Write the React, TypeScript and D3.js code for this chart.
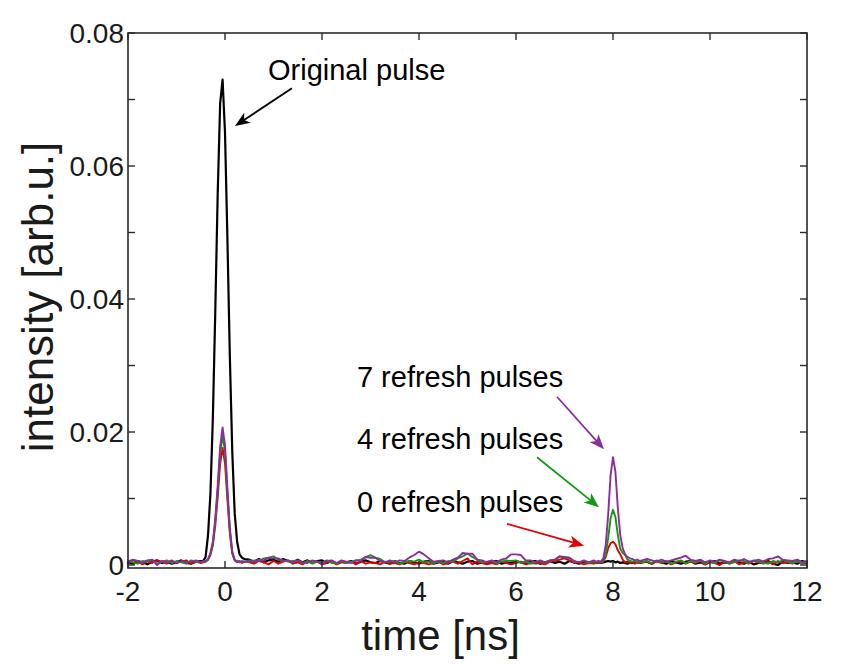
import * as d3 from "d3";

// sampling grid in ns (denser around the two pulses)
const TIME = [
  -2, -1.9, -1.8, -1.7, -1.6, -1.5, -1.4, -1.3, -1.2, -1.1, -1, -0.9, -0.8, -0.7, -0.6, -0.5,
  -0.45, -0.4, -0.35, -0.3, -0.25, -0.2, -0.15, -0.1, -0.05, 0, 0.05, 0.1, 0.15, 0.2, 0.25, 0.3, 0.35, 0.4,
  0.5, 0.6, 0.7, 0.8, 0.9, 1, 1.1, 1.2, 1.3, 1.4,
  1.5, 1.6, 1.7, 1.8, 1.9, 2, 2.1, 2.2, 2.3, 2.4,
  2.5, 2.6, 2.7, 2.8, 2.9, 3, 3.1, 3.2, 3.3, 3.4,
  3.5, 3.6, 3.7, 3.8, 3.9, 4, 4.1, 4.2, 4.3, 4.4,
  4.5, 4.6, 4.7, 4.8, 4.9, 5, 5.1, 5.2, 5.3, 5.4,
  5.5, 5.6, 5.7, 5.8, 5.9, 6, 6.1, 6.2, 6.3, 6.4,
  6.5, 6.6, 6.7, 6.8, 6.9, 7, 7.1, 7.2, 7.3, 7.4,
  7.5, 7.6,
  7.65, 7.7, 7.75, 7.8, 7.85, 7.9, 7.95, 8, 8.05, 8.1, 8.15, 8.2, 8.25, 8.3, 8.35, 8.4, 8.45, 8.5, 8.55, 8.6,
  8.7, 8.8, 8.9, 9, 9.1, 9.2, 9.3, 9.4, 9.5, 9.6,
  9.7, 9.8, 9.9, 10, 10.1, 10.2, 10.3, 10.4, 10.5, 10.6,
  10.7, 10.8, 10.9, 11, 11.1, 11.2, 11.3, 11.4, 11.5, 11.6,
  11.7, 11.8, 11.9, 12,
];

// intensities in units of 1e-4 arb.u.
const ORIGINAL = [
  4, 2, 6, 4, 1, 5, 7, 3, 5, 2, 4, 7, 3, 2, 5, 6,
  6, 12, 45, 108, 222, 383, 560, 694, 730, 650, 490, 313, 170, 78, 35, 16, 11, 9,
  8, 5, 9, 4, 7, 8, 5, 9, 6, 4,
  8, 4, 7, 3, 6, 7, 3, 6, 2, 5,
  4, 6, 2, 5, 7, 4, 3, 6, 4, 2,
  6, 3, 2, 6, 4, 2, 5, 6, 2, 4,
  5, 2, 6, 4, 2, 5, 6, 2, 4, 3,
  5, 6, 2, 4, 3, 6, 4, 2, 5, 6,
  2, 4, 6, 3, 5, 2, 6, 4, 2, 5,
  3, 5,
  3, 4, 3, 4, 5, 6, 5, 6, 4, 5, 3, 4, 3, 2, 4, 3, 5, 4, 3, 4,
  5, 2, 6, 4, 2, 6, 4, 2, 5, 6,
  2, 4, 1, 5, 6, 2, 4, 3, 6, 4,
  2, 5, 1, 3, 5, 6, 2, 0, 5, 3,
  4, 2, 6, 4,
];

const REFRESH_0 = [
  3, 7, 5, 1, 6, 3, 7, 5, 2, 6, 3, 5, 7, 2, 5, 3,
  4, 5, 8, 15, 30, 60, 102, 152, 176, 153, 98, 47, 17, 7, 4, 5, 3, 5,
  4, 2, 6, 4, 1, 6, 2, 5, 7, 2,
  4, 1, 6, 3, 5, 1, 3, 6, 1, 4,
  3, 5, 1, 6, 2, 4, 3, 1, 5, 2,
  3, 1, 5, 3, 1, 4, 3, 1, 3, 5,
  1, 3, 5, 2, 6, 10, 1, 5, 3, 1,
  3, 1, 5, 3, 1, 3, 5, 1, 3, 2,
  3, 1, 5, 6, 8, 10, 7, 3, 4, 1,
  3, 2,
  3, 4, 3, 5, 12, 25, 33, 35, 31, 22, 16, 8, 4, 5, 3, 4, 2, 4, 3, 4,
  5, 2, 6, 3, 5, 1, 4, 6, 2, 5,
  3, 6, 1, 4, 3, 0, 5, 2, 6, 1,
  4, 2, 6, 4, 2, 5, 1, 6, 3, 4,
  2, 6, 4, 2,
];

const REFRESH_4 = [
  7, 4, 2, 6, 5, 7, 2, 5, 7, 3, 6, 4, 2, 7, 5, 4,
  6, 5, 8, 17, 33, 66, 113, 168, 195, 170, 108, 52, 19, 7, 6, 4, 6, 5,
  5, 7, 6, 10, 11, 13, 8, 7, 5, 6,
  7, 3, 6, 2, 5, 4, 7, 3, 2, 6,
  3, 5, 7, 8, 12, 15, 11, 9, 4, 5,
  6, 2, 4, 6, 5, 8, 4, 5, 2, 6,
  3, 6, 5, 10, 13, 17, 12, 8, 4, 5,
  6, 2, 5, 7, 6, 7, 3, 6, 2, 4,
  6, 3, 7, 8, 13, 12, 11, 5, 4, 6,
  3, 5,
  4, 5, 4, 6, 16, 40, 70, 83, 72, 45, 24, 18, 15, 8, 6, 5, 6, 4, 5, 4,
  6, 3, 7, 4, 6, 2, 5, 7, 3, 6,
  4, 7, 2, 6, 3, 7, 5, 2, 4, 7,
  6, 3, 7, 5, 3, 2, 6, 4, 7, 5,
  3, 6, 2, 5,
];

const REFRESH_7 = [
  5, 8, 6, 3, 7, 8, 0, 6, 4, 7, 3, 6, 4, 5, 7, 4,
  5, 6, 9, 18, 35, 70, 120, 178, 207, 180, 115, 55, 20, 8, 5, 6, 4, 5,
  7, 4, 8, 7, 11, 10, 10, 6, 7, 4,
  7, 4, 3, 7, 5, 2, 6, 7, 3, 7,
  5, 3, 7, 6, 12, 11, 11, 6, 4, 7,
  4, 7, 6, 11, 15, 20, 16, 10, 5, 6,
  7, 4, 8, 11, 18, 17, 17, 8, 7, 4,
  7, 4, 8, 10, 16, 16, 15, 7, 7, 4,
  7, 4, 7, 8, 13, 11, 11, 6, 4, 7,
  4, 7,
  5, 6, 5, 10, 30, 75, 135, 162, 140, 85, 45, 25, 16, 12, 10, 9, 7, 8, 6, 7,
  9, 7, 5, 8, 5, 7, 9, 11, 14, 8,
  6, 8, 4, 7, 5, 8, 6, 4, 8, 6,
  9, 5, 6, 8, 5, 9, 10, 13, 8, 7,
  6, 8, 4, 6,
];

const UNIT = 1e-4;

const X_TICKS = [-2, 0, 2, 4, 6, 8, 10, 12];
const Y_TICKS = [0, 0.01, 0.02, 0.03, 0.04, 0.05, 0.06, 0.07, 0.08];
const Y_LABELED = [0, 0.02, 0.04, 0.06, 0.08];

const SERIES = [
  { key: "original", values: ORIGINAL, color: "#000000", width: 2.2 },
  { key: "r0", values: REFRESH_0, color: "#e00000", width: 1.9 },
  { key: "r4", values: REFRESH_4, color: "#149814", width: 1.9 },
  { key: "r7", values: REFRESH_7, color: "#8a2e9c", width: 1.9 },
];

// annotation text anchor and arrow (start -> tip), in data units
const NOTES = [
  { label: "Original pulse", at: [0.887, 0.0729], from: [1.38, 0.0717], to: [0.206, 0.066], color: "#000000" },
  { label: "7 refresh pulses", at: [2.72, 0.0268], from: [6.845, 0.0253], to: [7.814, 0.0174], color: "#8a2e9c" },
  { label: "4 refresh pulses", at: [2.72, 0.0174], from: [6.433, 0.0162], to: [7.711, 0.0087], color: "#149814" },
  { label: "0 refresh pulses", at: [2.72, 0.0080], from: [5.814, 0.0062], to: [7.402, 0.0029], color: "#e00000" },
];

const W = 844;
const H = 666;
const FONT = "'Liberation Sans', Arial, Helvetica, sans-serif";

export default function App() {
  const left = 128;
  const right = 807;
  const top = 33;
  const bottom = 568;

  const x = d3.scaleLinear().domain([-2, 12]).range([left, right]);
  const y = d3.scaleLinear().domain([-0.00045, 0.08]).range([bottom, top]);

  const line = d3
    .line<number>()
    .x((_, i) => x(TIME[i]))
    .y((v) => y(v * UNIT));

  const tickLen = 7;

  const arrowHead = (x1: number, y1: number, x2: number, y2: number) => {
    const dx = x2 - x1;
    const dy = y2 - y1;
    const len = Math.hypot(dx, dy);
    const ux = dx / len;
    const uy = dy / len;
    const nx = -uy;
    const ny = ux;
    const L = 15;
    const w = 6;
    const notch = 4;
    const pts = [
      [x2, y2],
      [x2 - L * ux + w * nx, y2 - L * uy + w * ny],
      [x2 - (L - notch) * ux, y2 - (L - notch) * uy],
      [x2 - L * ux - w * nx, y2 - L * uy - w * ny],
    ];
    return pts.map((p) => p.join(",")).join(" ");
  };

  return (
    <svg
      width={W}
      height={H}
      style={{ position: "absolute", left: 0, top: 0, background: "#fff" }}
      fontFamily={FONT}
    >
      <rect x={0} y={0} width={W} height={H} fill="#fff" />

      {/* data */}
      <g fill="none" strokeLinejoin="round" strokeLinecap="round">
        {SERIES.map((s) => (
          <path key={s.key} d={line(s.values) ?? ""} stroke={s.color} strokeWidth={s.width} />
        ))}
      </g>

      {/* frame */}
      <rect
        x={left}
        y={top}
        width={right - left}
        height={bottom - top}
        fill="none"
        stroke="#2a2a2a"
        strokeWidth={1.6}
      />

      {/* ticks */}
      <g stroke="#2a2a2a" strokeWidth={1.4}>
        {X_TICKS.map((t) => (
          <g key={`xt${t}`}>
            <line x1={x(t)} x2={x(t)} y1={bottom} y2={bottom - tickLen} />
            <line x1={x(t)} x2={x(t)} y1={top} y2={top + tickLen} />
          </g>
        ))}
        {Y_TICKS.map((t) => (
          <g key={`yt${t}`}>
            <line x1={left} x2={left + tickLen} y1={y(t)} y2={y(t)} />
            <line x1={right} x2={right - tickLen} y1={y(t)} y2={y(t)} />
          </g>
        ))}
      </g>

      {/* tick labels */}
      <g fontSize={28} fill="#1a1a1a">
        {X_TICKS.map((t) => (
          <text key={`xl${t}`} x={x(t)} y={bottom + 33} textAnchor="middle">
            {String(t)}
          </text>
        ))}
        {Y_LABELED.map((t) => (
          <text key={`yl${t}`} x={left - 4} y={y(t)} dy="0.34em" textAnchor="end">
            {t === 0 ? "0" : t.toFixed(2)}
          </text>
        ))}
      </g>

      {/* axis titles */}
      <text x={(left + right) / 2 - 27} y={650} fontSize={42} textAnchor="middle" fill="#1a1a1a">
        time [ns]
      </text>
      <text
        transform={`translate(53, 297) rotate(-90)`}
        fontSize={44}
        textAnchor="middle"
        fill="#1a1a1a"
      >
        intensity [arb.u.]
      </text>

      {/* annotations */}
      {NOTES.map((n) => {
        const x1 = x(n.from[0]);
        const y1 = y(n.from[1]);
        const x2 = x(n.to[0]);
        const y2 = y(n.to[1]);
        const len = Math.hypot(x2 - x1, y2 - y1);
        const ex = x2 - ((x2 - x1) / len) * 10;
        const ey = y2 - ((y2 - y1) / len) * 10;
        return (
          <g key={n.label}>
            <text x={x(n.at[0])} y={y(n.at[1])} fontSize={29} fill="#000">
              {n.label}
            </text>
            <line x1={x1} y1={y1} x2={ex} y2={ey} stroke={n.color} strokeWidth={1.8} />
            <polygon points={arrowHead(x1, y1, x2, y2)} fill={n.color} />
          </g>
        );
      })}
    </svg>
  );
}
